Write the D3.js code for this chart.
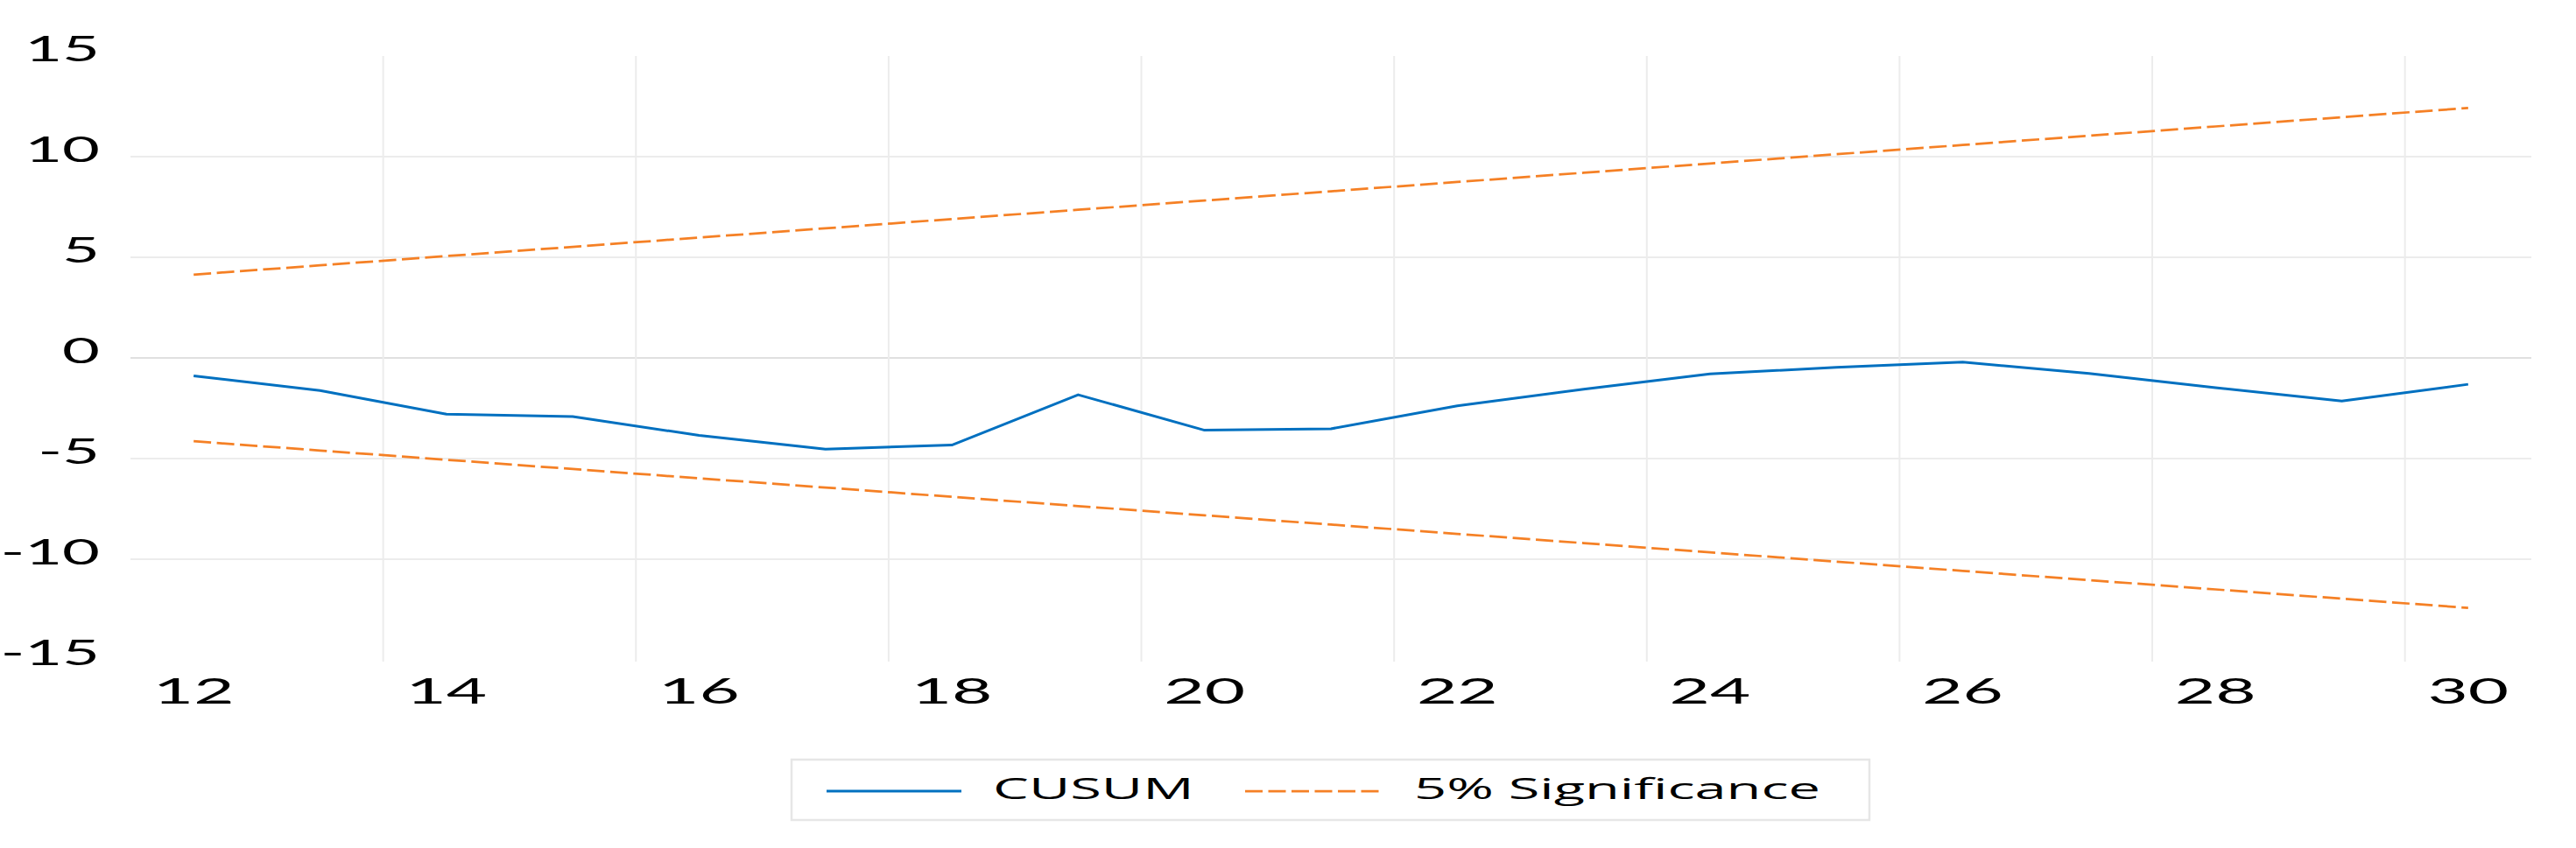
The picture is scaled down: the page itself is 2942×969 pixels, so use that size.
<!DOCTYPE html>
<html>
<head>
<meta charset="utf-8">
<script src="https://cdn.jsdelivr.net/npm/d3@7"></script>
<style>
  body { margin: 0; background: #fff; }
  text { font-family: Lato, "Open Sans", sans-serif; fill: #000; }
  .legend text { font-family: "Open Sans", Lato, sans-serif; }
</style>
</head>
<body>
<script>
// chart data
var periods = [12, 13, 14, 15, 16, 17, 18, 19, 20, 21, 22, 23, 24, 25, 26, 27, 28, 29, 30];
var cusum = [-0.89, -1.62, -2.79, -2.91, -3.85, -4.53, -4.33, -1.83, -3.59, -3.52,
  -2.38, -1.55, -0.79, -0.47, -0.21, -0.77, -1.48, -2.14, -1.31];
var upper5 = [4.14, 4.60, 5.06, 5.52, 5.98, 6.44, 6.90, 7.36, 7.82, 8.28,
  8.74, 9.20, 9.66, 10.12, 10.58, 11.04, 11.50, 11.96, 12.42];
var lower5 = [-4.14, -4.60, -5.06, -5.52, -5.98, -6.44, -6.90, -7.36, -7.82, -8.28,
  -8.74, -9.20, -9.66, -10.12, -10.58, -11.04, -11.50, -11.96, -12.42];
var xTickLabels = [12, 14, 16, 18, 20, 22, 24, 26, 28, 30];
var yTickLabels = [-15, -10, -5, 0, 5, 10, 15];
var yGridValues = [-10, -5, 0, 5, 10];
var seriesNames = ["CUSUM", "5% Significance"];

// set the dimensions and margins of the graph
var W = 2942, H = 969;
var margin = {top: 64, right: 51, bottom: 215, left: 149};
// text in the picture is stretched sideways
var yStretch = 1.85, xStretch = 1.95, legendStretch = 2.03;

var blue = "#0070c0", orange = "#f58025";

var svg = d3.select("body")
  .append("svg")
  .attr("width", W)
  .attr("height", H);

var x = d3.scaleBand()
  .domain(periods)
  .range([margin.left, W - margin.right]);
var xc = function (p) { return x(p) + x.bandwidth() / 2; };

var y = d3.scaleLinear()
  .domain([-15, 15])
  .range([H - margin.bottom, margin.top]);

// gridlines
svg.append("g")
  .selectAll("line")
  .data(yGridValues)
  .enter()
  .append("line")
  .attr("x1", margin.left)
  .attr("x2", W - margin.right)
  .attr("y1", function (d) { return y(d); })
  .attr("y2", function (d) { return y(d); })
  .attr("stroke", function (d) { return d === 0 ? "#d6d6d6" : "#ececec"; })
  .attr("stroke-width", function (d) { return d === 0 ? 1.6 : 2; });

svg.append("g")
  .selectAll("line")
  .data(xTickLabels.slice(1))
  .enter()
  .append("line")
  .attr("x1", function (d) { return x(d); })
  .attr("x2", function (d) { return x(d); })
  .attr("y1", y(15))
  .attr("y2", y(-15) + 2)
  .attr("stroke", "#ececec")
  .attr("stroke-width", 2);

// axis labels
svg.append("g")
  .selectAll("text")
  .data(yTickLabels)
  .enter()
  .append("text")
  .attr("text-anchor", "end")
  .attr("font-size", 40)
  .attr("transform", function (d) {
    return "translate(114," + (y(d) + 5.5) + ") scale(" + yStretch + ",1)";
  })
  .text(function (d) { return d; });

svg.append("g")
  .selectAll("text")
  .data(xTickLabels)
  .enter()
  .append("text")
  .attr("text-anchor", "middle")
  .attr("font-size", 41)
  .attr("transform", function (d) {
    return "translate(" + xc(d) + ",804) scale(" + xStretch + ",1)";
  })
  .text(function (d) { return d; });

// lines
var line = d3.line()
  .x(function (d, i) { return xc(periods[i]); })
  .y(function (d) { return y(d); });

[lower5, upper5].forEach(function (s) {
  svg.append("path")
    .datum(s)
    .attr("d", line)
    .attr("fill", "none")
    .attr("stroke", orange)
    .attr("stroke-width", 2.75)
    .attr("stroke-dasharray", "20,6.5");
});

svg.append("path")
  .datum(cusum)
  .attr("d", line)
  .attr("fill", "none")
  .attr("stroke", blue)
  .attr("stroke-width", 3)
  .attr("stroke-linejoin", "round");

// legend
var legend = svg.append("g").attr("class", "legend");
legend.append("rect")
  .attr("x", 904)
  .attr("y", 868)
  .attr("width", 1231)
  .attr("height", 69)
  .attr("fill", "none")
  .attr("stroke", "#e6e6e6")
  .attr("stroke-width", 2.5);

var legendItems = [
  {name: seriesNames[0], color: blue, dash: null, x0: 944, tx: 1134},
  {name: seriesNames[1], color: orange, dash: "20,6.5", x0: 1422, tx: 1615}
];
legendItems.forEach(function (d) {
  legend.append("line")
    .attr("x1", d.x0)
    .attr("x2", d.x0 + 154)
    .attr("y1", 904)
    .attr("y2", 904)
    .attr("stroke", d.color)
    .attr("stroke-width", d.dash ? 2.75 : 3)
    .attr("stroke-dasharray", d.dash);
  legend.append("text")
    .attr("font-size", 32)
    .attr("transform", "translate(" + d.tx + ",913) scale(" + legendStretch + ",1)")
    .text(d.name);
});
</script>
</body>
</html>
